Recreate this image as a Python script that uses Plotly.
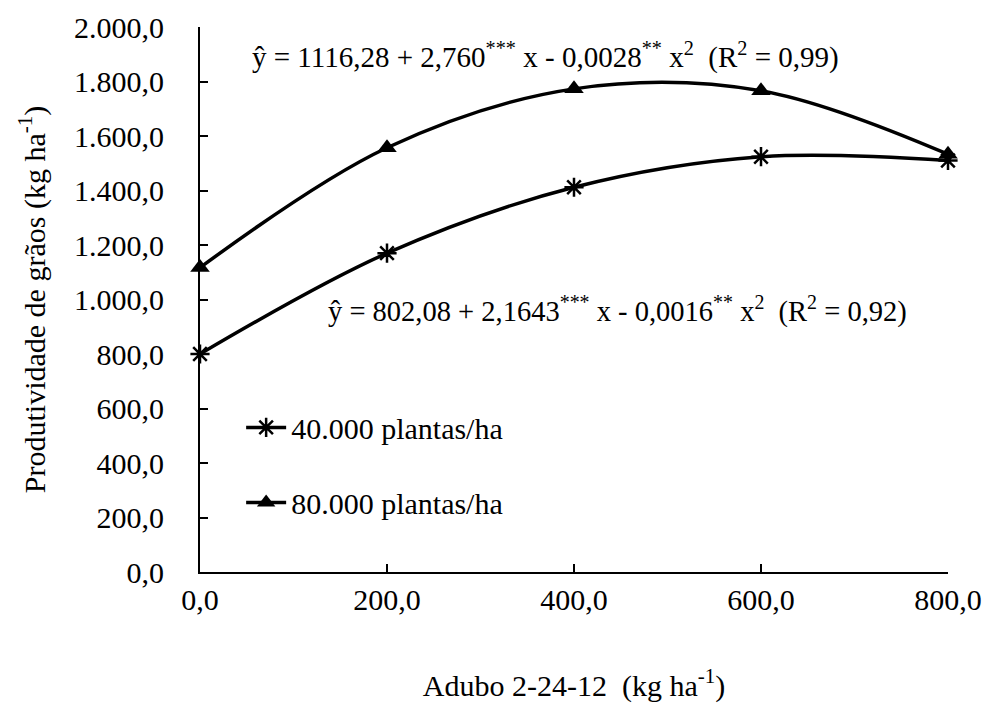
import plotly.graph_objects as go

doses = [0, 200, 400, 600, 800]
x_ticks = [0, 200, 400, 600, 800]
x_tick_labels = ["0,0", "200,0", "400,0", "600,0", "800,0"]
y_ticks = [0, 200, 400, 600, 800, 1000, 1200, 1400, 1600, 1800, 2000]
y_tick_labels = ["0,0", "200,0", "400,0", "600,0", "800,0", "1.000,0", "1.200,0",
                 "1.400,0", "1.600,0", "1.800,0", "2.000,0"]
prod_40k = [800, 1170, 1412, 1524, 1510]
prod_80k = [1117, 1557, 1773, 1766, 1533]
name_40k = "40.000 plantas/ha"
name_80k = "80.000 plantas/ha"
eq_80k = "ŷ = 1116,28 + 2,760<sup>***</sup> x - 0,0028<sup>**</sup> x<sup>2</sup>  (R<sup>2</sup> = 0,99)"
eq_40k = "ŷ = 802,08 + 2,1643<sup>***</sup> x - 0,0016<sup>**</sup> x<sup>2</sup>  (R<sup>2</sup> = 0,92)"

FONT = "Liberation Serif"

fig = go.Figure()
fig.add_trace(go.Scatter(
    x=doses, y=prod_40k, name=name_40k, mode="lines+markers",
    line=dict(color="black", width=3.5, shape="spline", smoothing=1),
    marker=dict(symbol="asterisk", size=16, color="black",
                line=dict(color="black", width=2.5)),
    legendgroup="a", cliponaxis=False,
))
fig.add_trace(go.Scatter(
    x=doses, y=prod_80k, name=name_80k, mode="lines+markers",
    line=dict(color="black", width=3.5, shape="spline", smoothing=1),
    marker=dict(symbol="triangle-up", size=17, color="black"),
    legendgroup="b", cliponaxis=False,
))

fig.add_annotation(x=369, y=1897, text=eq_80k, showarrow=False,
                   font=dict(family=FONT, size=29, color="black"))
fig.add_annotation(x=446, y=962, text=eq_40k, showarrow=False,
                   font=dict(family=FONT, size=28.5, color="black"))

fig.update_layout(
    width=988, height=705,
    margin=dict(l=200, r=40, t=27, b=133),
    paper_bgcolor="white", plot_bgcolor="white",
    font=dict(family=FONT, size=30, color="black"),
    showlegend=True,
    legend=dict(x=0.055, y=0.313, xanchor="left", yanchor="top",
                bgcolor="rgba(0,0,0,0)", traceorder="grouped",
                tracegroupgap=33, font=dict(family=FONT, size=30),
                itemwidth=40),
    xaxis=dict(range=[0, 800], tickvals=x_ticks, ticktext=x_tick_labels,
               showgrid=False, zeroline=False, showline=True, linecolor="black",
               linewidth=2, ticks="inside", ticklen=8, tickwidth=2, tickcolor="black",
               tickfont=dict(family=FONT, size=30), automargin=False,
               title=dict(text="Adubo 2-24-12  (kg ha<sup>-1</sup>)",
                          font=dict(family=FONT, size=30), standoff=60)),
    yaxis=dict(range=[0, 2000], tickvals=y_ticks, ticktext=y_tick_labels,
               showgrid=False, zeroline=False, showline=True, linecolor="black",
               linewidth=2, ticks="inside", ticklen=8, tickwidth=2, tickcolor="black",
               tickfont=dict(family=FONT, size=30), ticklabelstandoff=28,
               automargin=False,
               title=dict(text="Produtividade de grãos (kg ha<sup>-1</sup>)",
                          font=dict(family=FONT, size=30), standoff=20)),
)

fig.write_html("out.html", config={"displayModeBar": False},
               post_script="document.body.style.margin='0';")
